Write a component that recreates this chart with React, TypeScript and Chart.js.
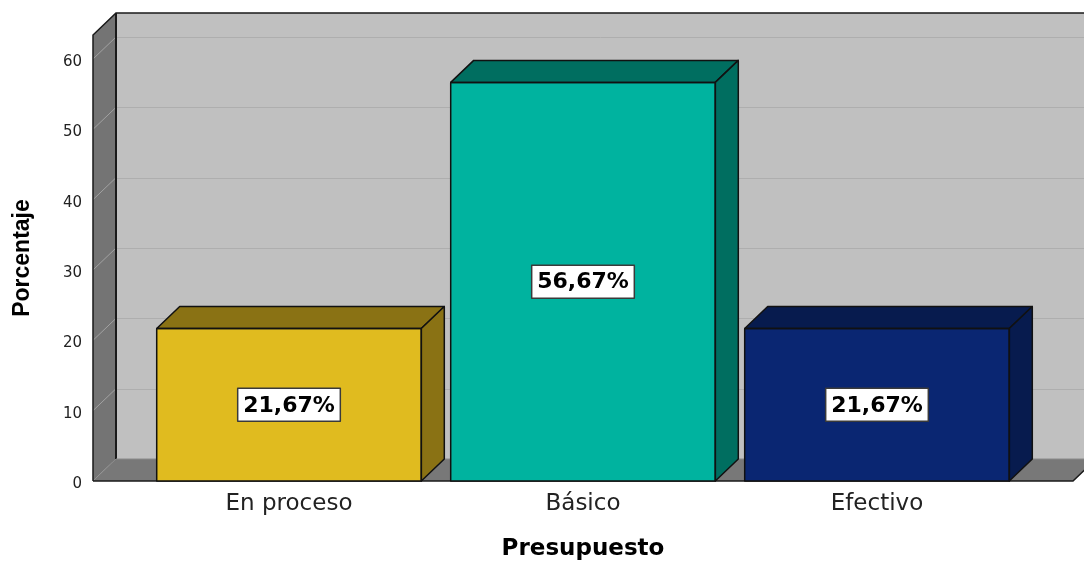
import React, { useEffect, useRef } from 'react';
import { Chart, registerables } from 'chart.js';

Chart.register(...registerables);

const CATEGORIES = ['En proceso', 'Básico', 'Efectivo'];
const PERCENTAGES = [21.67, 56.67, 21.67];
const Y_TICKS = [0, 10, 20, 30, 40, 50, 60];
const Y_MAX = 63.41;
const X_MIN = -0.6667;
const X_MAX = 2.6667;
const FRONT_COLORS = ['#E0BB1F', '#00B39F', '#0A2672'];
const DEPTH_COLORS = ['#8A7214', '#006E60', '#071B4E'];
const X_TITLE = 'Presupuesto';
const Y_TITLE = 'Porcentaje';

const DX = 23;
const DY = 22;

const fmt = (v: number) => v.toFixed(2).replace('.', ',') + '%';

const threeD = {
  id: 'threeD',
  beforeDraw(chart: any) {
    const { ctx, chartArea: ca, scales } = chart;
    const y = scales.y;
    const W = chart.width;
    const L = ca.left, R = ca.right, T = ca.top, B = ca.bottom;
    ctx.save();
    // back plane
    ctx.fillStyle = '#C0C0C0';
    ctx.fillRect(L + DX, T - DY, W - L - DX + 40, B - T);
    // back gridlines
    ctx.lineWidth = 1;
    for (const v of Y_TICKS) {
      if (v === 0) continue;
      const py = Math.round(y.getPixelForValue(v) - DY) + 0.5;
      ctx.strokeStyle = '#AEAEAE';
      ctx.beginPath();
      ctx.moveTo(L + DX, py);
      ctx.lineTo(W + 40, py);
      ctx.stroke();
    }
    // left wall
    ctx.fillStyle = '#747474';
    ctx.beginPath();
    ctx.moveTo(L, T);
    ctx.lineTo(L + DX, T - DY);
    ctx.lineTo(L + DX, B - DY);
    ctx.lineTo(L, B);
    ctx.closePath();
    ctx.fill();
    for (const v of Y_TICKS) {
      const py = y.getPixelForValue(v);
      ctx.strokeStyle = '#A2A2A2';
      ctx.beginPath();
      ctx.moveTo(L, py);
      ctx.lineTo(L + DX, py - DY);
      ctx.stroke();
    }
    // floor
    ctx.fillStyle = '#787878';
    ctx.beginPath();
    ctx.moveTo(L, B);
    ctx.lineTo(L + DX, B - DY);
    ctx.lineTo(R + DX, B - DY);
    ctx.lineTo(R, B);
    ctx.closePath();
    ctx.fill();
    // outlines
    ctx.strokeStyle = '#1A1A1A';
    ctx.lineWidth = 1.5;
    ctx.beginPath();
    ctx.moveTo(L, B);
    ctx.lineTo(L, T);
    ctx.lineTo(L + DX, T - DY);
    ctx.lineTo(W + 40, T - DY);
    ctx.stroke();
    ctx.lineWidth = 2;
    ctx.beginPath();
    ctx.moveTo(L + DX, T - DY);
    ctx.lineTo(L + DX, B - DY);
    ctx.stroke();
    ctx.lineWidth = 1.5;
    ctx.beginPath();
    ctx.moveTo(L, B);
    ctx.lineTo(R, B);
    ctx.lineTo(R + DX, B - DY);
    ctx.stroke();
    ctx.strokeStyle = '#8A8A8A';
    ctx.lineWidth = 1;
    ctx.beginPath();
    ctx.moveTo(L + DX, B - DY);
    ctx.lineTo(R + DX, B - DY);
    ctx.stroke();
    ctx.restore();
  },
  afterDatasetsDraw(chart: any) {
    const { ctx } = chart;
    const meta = chart.getDatasetMeta(0);
    ctx.save();
    meta.data.forEach((el: any, i: number) => {
      const { x, y, base, width } = el.getProps(['x', 'y', 'base', 'width'], true);
      const l = x - width / 2;
      const r = x + width / 2;
      ctx.fillStyle = DEPTH_COLORS[i];
      ctx.strokeStyle = '#111';
      ctx.lineWidth = 1.5;
      ctx.lineJoin = 'round';
      // top face
      ctx.beginPath();
      ctx.moveTo(l, y);
      ctx.lineTo(l + DX, y - DY);
      ctx.lineTo(r + DX, y - DY);
      ctx.lineTo(r, y);
      ctx.closePath();
      ctx.fill();
      ctx.stroke();
      // side face
      ctx.beginPath();
      ctx.moveTo(r, y);
      ctx.lineTo(r + DX, y - DY);
      ctx.lineTo(r + DX, base - DY);
      ctx.lineTo(r, base);
      ctx.closePath();
      ctx.fill();
      ctx.stroke();
      // front outline
      ctx.strokeRect(l, y, width, base - y);
    });
    // value labels
    ctx.font = 'bold 22px "DejaVu Sans"';
    ctx.textAlign = 'center';
    ctx.textBaseline = 'middle';
    meta.data.forEach((el: any, i: number) => {
      const { x, y, base } = el.getProps(['x', 'y', 'base'], true);
      const txt = fmt(PERCENTAGES[i]);
      const cy = (y + base) / 2;
      const tw = ctx.measureText(txt).width;
      const bw = tw + 11;
      const bh = 33;
      ctx.fillStyle = '#FFFFFF';
      ctx.fillRect(x - bw / 2, cy - bh / 2, bw, bh);
      ctx.strokeStyle = '#3A3A3A';
      ctx.lineWidth = 1.5;
      ctx.strokeRect(x - bw / 2, cy - bh / 2, bw, bh);
      ctx.fillStyle = '#000';
      ctx.fillText(txt, x, cy + 1);
    });
    ctx.restore();
  },
};

export default function App() {
  const ref = useRef<HTMLCanvasElement | null>(null);
  useEffect(() => {
    if (!ref.current) return;
    const chart = new Chart(ref.current, {
      type: 'bar',
      data: {
        datasets: [
          {
            data: PERCENTAGES.map((v, i) => ({ x: i, y: v })),
            backgroundColor: FRONT_COLORS,
            borderColor: '#111',
            borderWidth: 0,
            barPercentage: 1,
            categoryPercentage: 0.9,
          },
        ],
      },
      options: {
        animation: false,
        responsive: false,
        maintainAspectRatio: false,
        layout: { padding: { left: 0, right: 11, top: 35, bottom: 0 } },
        plugins: { legend: { display: false }, tooltip: { enabled: false } },
        scales: {
          x: {
            type: 'linear',
            offset: false,
            min: X_MIN,
            max: X_MAX,
            afterBuildTicks: (s: any) => {
              s.ticks = CATEGORIES.map((_, i) => ({ value: i }));
            },
            afterFit: (s: any) => {
              s.height = 80;
            },
            grid: { display: false, drawTicks: false, offset: false },
            border: { display: false },
            ticks: {
              autoSkip: false,
              maxRotation: 0,
              padding: 12,
              color: '#222',
              font: { family: '"DejaVu Sans"', size: 23, lineHeight: 1 },
              callback: (v: any) => CATEGORIES[Math.round(Number(v))] ?? '',
            },
            title: {
              display: true,
              text: X_TITLE,
              color: '#000',
              padding: { top: 0, bottom: 0 },
              font: { family: '"DejaVu Sans"', size: 23, weight: 'bold', lineHeight: 1 },
            },
          },
          y: {
            min: 0,
            max: Y_MAX,
            afterBuildTicks: (s: any) => {
              s.ticks = Y_TICKS.map((v) => ({ value: v }));
            },
            afterFit: (s: any) => {
              s.width = 93;
            },
            grid: { display: false, drawTicks: false },
            border: { display: false },
            ticks: {
              padding: 11,
              labelOffset: 3,
              color: '#222',
              font: { family: '"DejaVu Sans"', size: 15 },
            },
            title: {
              display: true,
              text: Y_TITLE,
              color: '#000',
              padding: { top: 11, bottom: 0 },
              font: { family: '"Liberation Sans"', size: 23, weight: 'bold', lineHeight: 1 },
            },
          },
        },
      },
      plugins: [threeD],
    });
    return () => chart.destroy();
  }, []);
  return (
    <div style={{ position: 'fixed', left: 0, top: 0, width: 1084, height: 561, background: '#fff' }}>
      <canvas ref={ref} width={1084} height={561} style={{ display: 'block' }} />
    </div>
  );
}
